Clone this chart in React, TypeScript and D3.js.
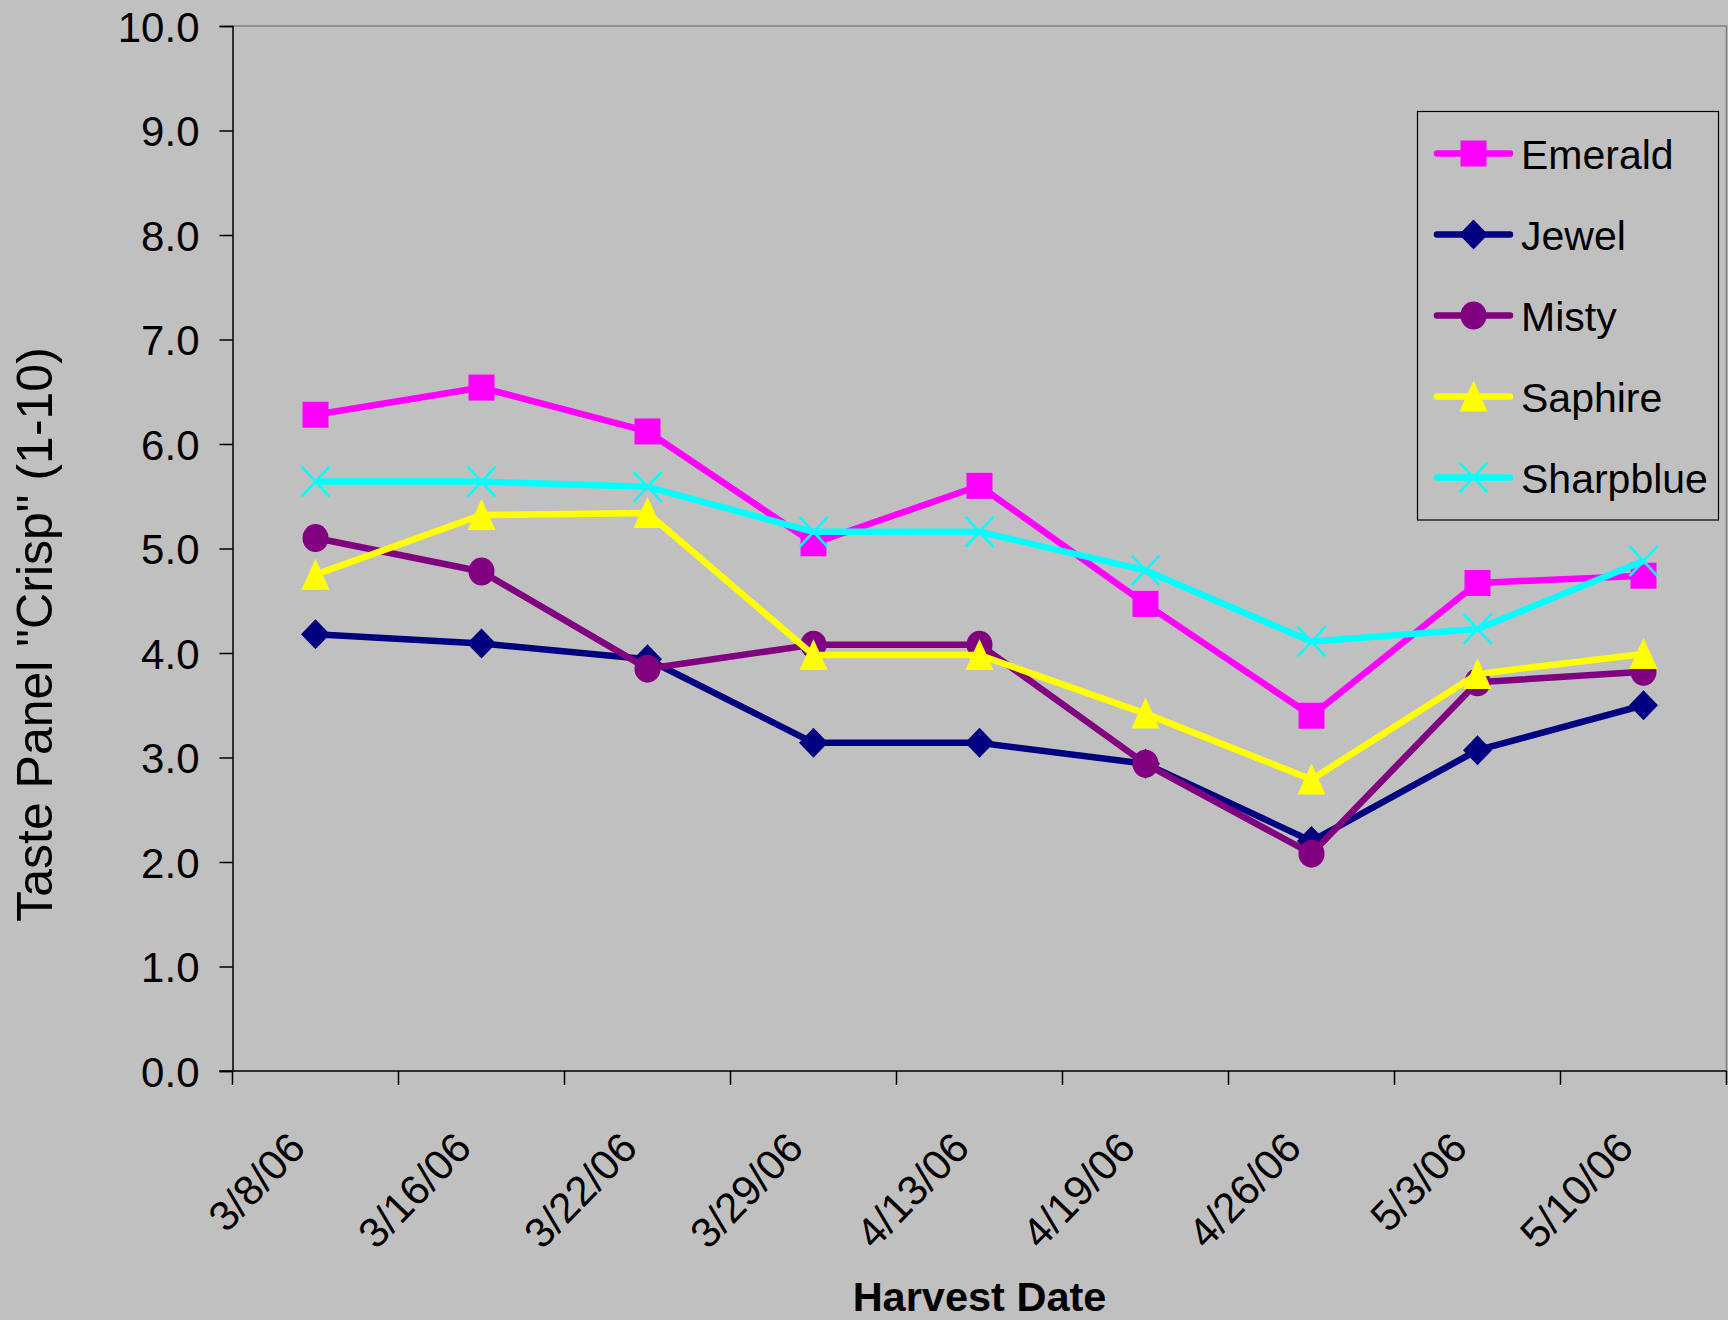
import React, { useEffect, useRef } from "react";
import * as d3 from "d3";

// Harvest dates (categories)
const dates = ["3/8/06", "3/16/06", "3/22/06", "3/29/06", "4/13/06", "4/19/06", "4/26/06", "5/3/06", "5/10/06"];

// Taste panel "Crisp" scores per variety
const emerald = [6.28, 6.54, 6.12, 5.05, 5.6, 4.47, 3.4, 4.67, 4.74];
const jewel = [4.18, 4.09, 3.94, 3.14, 3.14, 2.94, 2.2, 3.07, 3.5];
const misty = [5.1, 4.78, 3.85, 4.08, 4.08, 2.94, 2.08, 3.72, 3.82];
const saphire = [4.75, 5.32, 5.34, 3.98, 3.98, 3.42, 2.79, 3.8, 3.99];
const sharpblue = [5.64, 5.64, 5.59, 5.16, 5.16, 4.79, 4.11, 4.23, 4.88];

const seriesNames = ["Emerald", "Jewel", "Misty", "Saphire", "Sharpblue"];
const seriesValues = [emerald, jewel, misty, saphire, sharpblue];
const seriesColors = ["#FF00FF", "#000080", "#800080", "#FFFF00", "#00FFFF"];
const seriesMarkers = ["square", "diamond", "circle", "triangle", "x"];

const yTicks = [0, 1, 2, 3, 4, 5, 6, 7, 8, 9, 10];

const W = 1728;
const H = 1320;
const FONT = "'Liberation Sans', Arial, sans-serif";

function drawMarker(g: any, type: string, color: string, x: number, y: number) {
  if (type === "square") {
    g.append("rect").attr("x", x - 13).attr("y", y - 13).attr("width", 26).attr("height", 26).attr("fill", color);
  } else if (type === "diamond") {
    g.append("path")
      .attr("d", `M${x},${y - 15}L${x + 14.5},${y}L${x},${y + 15}L${x - 14.5},${y}Z`)
      .attr("fill", color);
  } else if (type === "circle") {
    g.append("ellipse").attr("cx", x).attr("cy", y).attr("rx", 13).attr("ry", 14).attr("fill", color);
  } else if (type === "triangle") {
    g.append("path")
      .attr("d", `M${x},${y - 16}L${x + 14},${y + 15}L${x - 14},${y + 15}Z`)
      .attr("fill", color);
  } else if (type === "x") {
    g.append("path")
      .attr("d", `M${x - 14},${y - 15}L${x + 14},${y + 15}M${x - 14},${y + 15}L${x + 14},${y - 15}`)
      .attr("stroke", color)
      .attr("stroke-width", 2.5)
      .attr("fill", "none");
  }
}

export default function App() {
  const ref = useRef<SVGSVGElement>(null);

  useEffect(() => {
    const svg = d3.select(ref.current);
    svg.selectAll("*").remove();

    const left = 232.5;
    const right = 1726.5;
    const top = 26;
    const bottom = 1071;

    svg.append("rect").attr("width", W).attr("height", H).attr("fill", "#C0C0C0");

    const x = d3.scaleBand<string>().domain(dates).range([left, right]).padding(0);
    const y = d3.scaleLinear().domain([0, 10]).range([bottom, top]);
    const cx = (d: string) => (x(d) as number) + x.bandwidth() / 2;

    // plot area frame (top and right)
    svg
      .append("path")
      .attr("d", `M${left},${top}H${right}V${bottom}`)
      .attr("stroke", "#808080")
      .attr("stroke-width", 1.5)
      .attr("fill", "none");

    // y axis
    const yAxis = d3
      .axisLeft(y)
      .tickValues(yTicks)
      .tickFormat(d3.format(".1f") as any)
      .tickSize(13)
      .tickPadding(20);
    const gy = svg.append("g").attr("transform", `translate(${left},0)`).call(yAxis as any);
    gy.select(".domain").attr("stroke", "#000").attr("stroke-width", 1.5);
    gy.selectAll(".tick line").attr("stroke", "#000").attr("stroke-width", 1.5);
    gy.selectAll(".tick text")
      .attr("font-family", FONT)
      .attr("font-size", 42)
      .attr("fill", "#000")
      .attr("dy", "0.36em");

    // x axis line and category boundary ticks
    svg
      .append("line")
      .attr("x1", left - 13)
      .attr("x2", right)
      .attr("y1", bottom)
      .attr("y2", bottom)
      .attr("stroke", "#000")
      .attr("stroke-width", 1.5);
    const bounds = dates.map((d) => x(d) as number).concat([right]);
    svg
      .append("g")
      .selectAll("line")
      .data(bounds)
      .join("line")
      .attr("x1", (d) => d)
      .attr("x2", (d) => d)
      .attr("y1", bottom)
      .attr("y2", bottom + 14)
      .attr("stroke", "#000")
      .attr("stroke-width", 1.5);

    svg
      .append("g")
      .selectAll("text")
      .data(dates)
      .join("text")
      .attr("transform", (d) => `translate(${cx(d) - 8},${bottom + 79}) rotate(-46)`)
      .attr("text-anchor", "end")
      .attr("font-family", FONT)
      .attr("font-size", 42)
      .attr("fill", "#000")
      .text((d) => d);

    // axis titles
    svg
      .append("text")
      .attr("x", (left + right) / 2)
      .attr("y", 1311)
      .attr("text-anchor", "middle")
      .attr("font-family", FONT)
      .attr("font-weight", "bold")
      .attr("font-size", 41.5)
      .attr("fill", "#000")
      .text("Harvest Date");

    svg
      .append("text")
      .attr("transform", `translate(52,634.5) rotate(-90)`)
      .attr("text-anchor", "middle")
      .attr("font-family", FONT)
      .attr("font-size", 50)
      .attr("fill", "#000")
      .text('Taste Panel "Crisp" (1-10)');

    // series
    const line = d3
      .line<number>()
      .x((_, i) => cx(dates[i]))
      .y((v) => y(v));

    seriesValues.forEach((vals, si) => {
      const g = svg.append("g");
      g.append("path")
        .attr("d", line(vals) as string)
        .attr("stroke", seriesColors[si])
        .attr("stroke-width", 6.5)
        .attr("stroke-linejoin", "round")
        .attr("fill", "none");
      vals.forEach((v, i) => drawMarker(g, seriesMarkers[si], seriesColors[si], cx(dates[i]), y(v)));
    });

    // legend
    const lg = svg.append("g");
    lg.append("rect")
      .attr("x", 1417.5)
      .attr("y", 111.5)
      .attr("width", 301)
      .attr("height", 408.5)
      .attr("fill", "#C0C0C0")
      .attr("stroke", "#000")
      .attr("stroke-width", 1.2);
    seriesNames.forEach((name, si) => {
      const ry = 153.5 + si * 81;
      lg.append("line")
        .attr("x1", 1437)
        .attr("x2", 1510)
        .attr("y1", ry)
        .attr("y2", ry)
        .attr("stroke", seriesColors[si])
        .attr("stroke-width", 6.5)
        .attr("stroke-linecap", "round");
      drawMarker(lg, seriesMarkers[si], seriesColors[si], 1473.5, ry);
      lg.append("text")
        .attr("x", 1521)
        .attr("y", ry + 15)
        .attr("font-family", FONT)
        .attr("font-size", 41)
        .attr("fill", "#000")
        .text(name);
    });
  }, []);

  return (
    <svg
      ref={ref}
      width={W}
      height={H}
      style={{ position: "absolute", left: 0, top: 0, display: "block" }}
    />
  );
}
